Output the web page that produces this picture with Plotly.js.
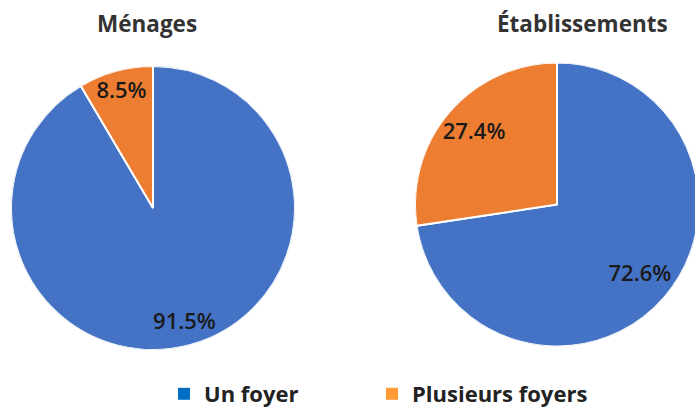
<!DOCTYPE html>
<html>
<head>
<meta charset="utf-8">
<script src="https://cdn.plot.ly/plotly-3.0.1.min.js"></script>
<style>
html, body { margin: 0; padding: 0; overflow: hidden; background: #ffffff; }
#chart { width: 705px; height: 420px; }
</style>
</head>
<body>
<div id="chart"></div>
<script>
// Data
var categories = ["Un foyer", "Plusieurs foyers"];
var menagesValues = [91.5, 8.5];
var etablissementsValues = [72.6, 27.4];
var chartTitles = ["Ménages", "Établissements"];
var sliceColors = ["#4472C4", "#ED7D31"];
var legendColors = ["#0070C8", "#FF9933"];

var W = 705, H = 420;
function px(x) { return x / W; }
function py(y) { return 1 - y / H; }

var labelFont = { family: "Open Sans, sans-serif", size: 22, color: "#1a1a1a", weight: 600 };

var domains = [
  { x: [px(11), px(295)], y: [py(350), py(66)] },
  { x: [px(415), px(699)], y: [py(346.5), py(62.5)] }
];
var labelRadius = [0.84, 0.77];
var seriesValues = [menagesValues, etablissementsValues];

var traces = [];
var layoutExtra = {};
seriesValues.forEach(function (vals, k) {
  var total = vals.reduce(function (a, b) { return a + b; }, 0);
  var cum = 0;
  var mids = [], widths = [];
  vals.forEach(function (v) {
    mids.push((cum + v / 2) / total * 360);
    widths.push(v / total * 360);
    cum += v;
  });
  var sub = k === 0 ? "polar" : "polar2";
  traces.push({
    type: "barpolar",
    subplot: sub,
    r: vals.map(function () { return 1; }),
    theta: mids,
    width: widths,
    base: 0,
    marker: { color: sliceColors, line: { color: "#ffffff", width: 2 } },
    name: chartTitles[k],
    hoverinfo: "skip",
    showlegend: false
  });
  traces.push({
    type: "scatterpolar",
    subplot: sub,
    mode: "text",
    r: vals.map(function () { return labelRadius[k]; }),
    theta: mids,
    text: vals.map(function (v) { return v.toFixed(1) + "%"; }),
    textposition: "middle center",
    textfont: labelFont,
    hoverinfo: "skip",
    showlegend: false
  });
  layoutExtra[sub] = {
    domain: domains[k],
    hole: 0,
    bgcolor: "rgba(0,0,0,0)",
    radialaxis: { visible: false, range: [0, 1] },
    angularaxis: { visible: false, direction: "clockwise", rotation: 90 }
  };
});

var legendFont = { family: "Open Sans, sans-serif", size: 22, color: "#222222", weight: 700 };
var legendX = [164, 372];
var legendTraces = categories.map(function (c, i) {
  var lg = i === 0 ? "legend" : "legend2";
  layoutExtra[lg] = {
    orientation: "h",
    x: px(legendX[i]), xanchor: "left",
    y: py(394), yanchor: "middle",
    font: legendFont,
    bgcolor: "rgba(0,0,0,0)"
  };
  return {
    type: "scatter",
    mode: "markers",
    x: [null], y: [null],
    name: c,
    legend: lg,
    marker: { symbol: "square", size: 12, color: legendColors[i] },
    showlegend: true,
    hoverinfo: "skip"
  };
});

var titleFont = { family: "Open Sans, sans-serif", size: 22.5, color: "#333333", weight: 700 };

var layout = Object.assign({
  width: W,
  height: H,
  margin: { l: 0, r: 0, t: 0, b: 0, autoexpand: false },
  paper_bgcolor: "#ffffff",
  plot_bgcolor: "rgba(0,0,0,0)",
  xaxis: { visible: false },
  yaxis: { visible: false },
  showlegend: true,
  annotations: [
    { text: chartTitles[0], x: px(147), y: py(23), xref: "paper", yref: "paper", xanchor: "center", yanchor: "middle", showarrow: false, font: titleFont },
    { text: chartTitles[1], x: px(582), y: py(23), xref: "paper", yref: "paper", xanchor: "center", yanchor: "middle", showarrow: false, font: titleFont }
  ]
}, layoutExtra);

Plotly.newPlot("chart", legendTraces.concat(traces), layout, { displayModeBar: false, staticPlot: true });
</script>
</body>
</html>
